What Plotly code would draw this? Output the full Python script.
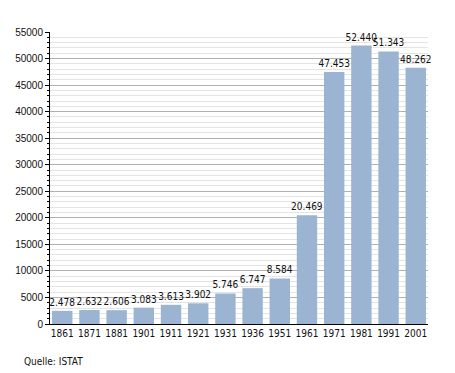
import plotly.graph_objects as go

years = ["1861", "1871", "1881", "1901", "1911", "1921", "1931", "1936", "1951", "1961", "1971", "1981", "1991", "2001"]
population = [2478, 2632, 2606, 3083, 3613, 3902, 5746, 6747, 8584, 20469, 47453, 52440, 51343, 48262]
y_ticks = [0, 5000, 10000, 15000, 20000, 25000, 30000, 35000, 40000, 45000, 50000, 55000]
source_text = "Quelle: ISTAT"

NARROW = "Liberation Sans Narrow, Arial Narrow, DejaVu Sans Condensed, Liberation Sans, sans-serif"
REGULAR = "Liberation Sans, Arial, sans-serif"

fig = go.Figure(
    go.Bar(
        x=years,
        y=population,
        marker=dict(color="#9ab4d1", line=dict(width=0)),
        texttemplate="%{y:,.0f}",
        textposition="outside",
        constraintext="none",
        cliponaxis=False,
        textfont=dict(family=NARROW, size=10, color="#111"),
    )
)

fig.update_layout(
    width=455,
    height=373,
    separators=",.",
    margin=dict(l=50, r=27, t=32, b=49),
    paper_bgcolor="white",
    plot_bgcolor="white",
    bargap=0.25,
    showlegend=False,
    font=dict(family=REGULAR, size=10, color="#111"),
    annotations=[
        dict(
            text=source_text,
            xref="paper", yref="paper",
            x=-0.075, y=-0.13,
            xanchor="left", yanchor="middle",
            showarrow=False,
            font=dict(family=NARROW, size=10, color="#111"),
        )
    ],
)

fig.update_xaxes(
    type="category",
    range=[-0.45, 13.45],
    showline=True,
    linecolor="black",
    linewidth=1,
    ticks="",
    showgrid=False,
    tickfont=dict(family=NARROW, size=10),
)

fig.update_yaxes(
    range=[0, 55000],
    tickvals=y_ticks,
    tickformat="d",
    showline=True,
    linecolor="black",
    linewidth=1,
    ticks="outside",
    ticklen=4,
    tickcolor="black",
    showgrid=True,
    gridcolor="#b0b0b0",
    gridwidth=1,
    zeroline=False,
    tickfont=dict(family=REGULAR, size=10),
    minor=dict(
        dtick=1000,
        showgrid=True,
        gridcolor="#e4e4e4",
        ticks="outside",
        ticklen=2,
        tickcolor="black",
    ),
)

fig.write_html(
    "out.html",
    config={"displayModeBar": False},
    post_script="document.body.style.margin='0';",
)
